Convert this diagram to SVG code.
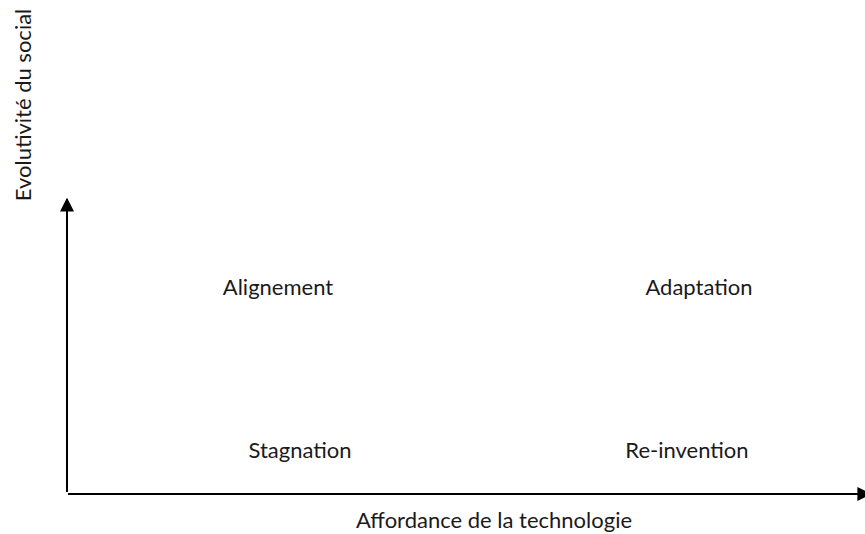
<svg xmlns="http://www.w3.org/2000/svg" width="865" height="534" viewBox="0 0 865 534">
  <style>
    .lbl { font-family: Lato, "Carlito", "Liberation Sans", sans-serif; font-size: 22px; fill: #1a1a1a; text-anchor: middle; }
    .axis { stroke: #000; stroke-width: 2; fill: none; }
  </style>
  <defs>
    <marker id="arrow" viewBox="0 0 10 10" refX="9" refY="5" markerWidth="7" markerHeight="7" orient="auto" markerUnits="strokeWidth">
      <path d="M0,0 L10,5 L0,10 z" fill="#000"/>
    </marker>
  </defs>
  <rect width="865" height="534" fill="#fff"/>
  <g id="connectors">
    <line class="axis" x1="67" y1="492" x2="67" y2="199" marker-end="url(#arrow)"/>
    <line class="axis" x1="68" y1="494" x2="870" y2="494" marker-end="url(#arrow)"/>
  </g>
  <g id="axis-y-label"><text class="lbl" transform="translate(31,105) rotate(-90)">Evolutivité du social</text></g>
  <g id="axis-x-label"><text class="lbl" x="494" y="528">Affordance de la technologie</text></g>
  <g id="alignement"><text class="lbl" x="278" y="295">Alignement</text></g>
  <g id="adaptation"><text class="lbl" x="699" y="295">Adaptation</text></g>
  <g id="stagnation"><text class="lbl" x="300" y="458">Stagnation</text></g>
  <g id="reinvention"><text class="lbl" x="687" y="458">Re-invention</text></g>
</svg>
